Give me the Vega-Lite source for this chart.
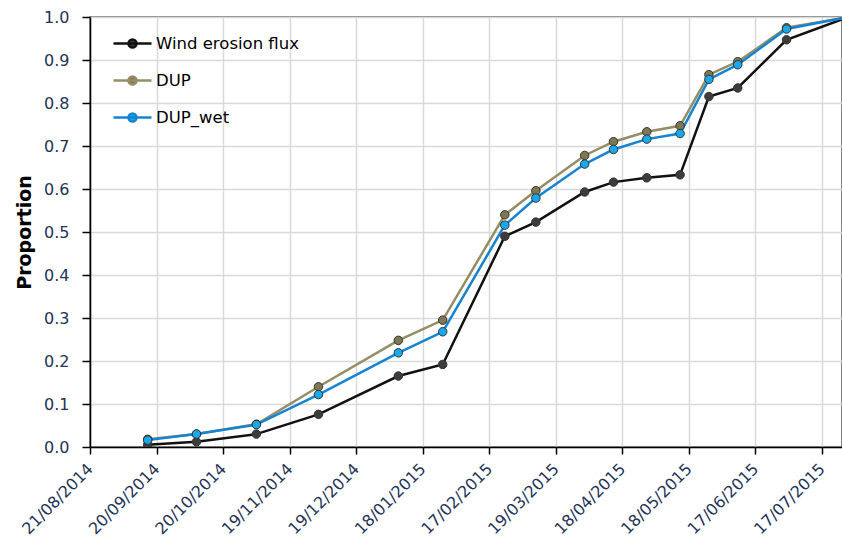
{
  "$schema": "https://vega.github.io/schema/vega-lite/v6.json",
  "width": 752,
  "height": 430,
  "autosize": {"type": "none"},
  "padding": {"left": 90, "top": 17, "right": 0, "bottom": 99},
  "background": "white",
  "config": {
    "view": {"stroke": "#595959", "strokeWidth": 1.5},
    "font": "DejaVu Sans"
  },
  "data": {
    "values": [
      {"date": "2014-09-16", "series": "Wind erosion flux", "value": 0.005},
      {"date": "2014-10-08", "series": "Wind erosion flux", "value": 0.012},
      {"date": "2014-11-04", "series": "Wind erosion flux", "value": 0.030},
      {"date": "2014-12-02", "series": "Wind erosion flux", "value": 0.076},
      {"date": "2015-01-07", "series": "Wind erosion flux", "value": 0.165},
      {"date": "2015-01-27", "series": "Wind erosion flux", "value": 0.192},
      {"date": "2015-02-24", "series": "Wind erosion flux", "value": 0.490},
      {"date": "2015-03-10", "series": "Wind erosion flux", "value": 0.523},
      {"date": "2015-04-01", "series": "Wind erosion flux", "value": 0.593},
      {"date": "2015-04-14", "series": "Wind erosion flux", "value": 0.616},
      {"date": "2015-04-29", "series": "Wind erosion flux", "value": 0.626},
      {"date": "2015-05-14", "series": "Wind erosion flux", "value": 0.633},
      {"date": "2015-05-27", "series": "Wind erosion flux", "value": 0.815},
      {"date": "2015-06-09", "series": "Wind erosion flux", "value": 0.835},
      {"date": "2015-07-01", "series": "Wind erosion flux", "value": 0.947},
      {"date": "2015-07-29", "series": "Wind erosion flux", "value": 1.0},
      {"date": "2014-09-16", "series": "DUP", "value": 0.018},
      {"date": "2014-10-08", "series": "DUP", "value": 0.030},
      {"date": "2014-11-04", "series": "DUP", "value": 0.053},
      {"date": "2014-12-02", "series": "DUP", "value": 0.140},
      {"date": "2015-01-07", "series": "DUP", "value": 0.248},
      {"date": "2015-01-27", "series": "DUP", "value": 0.295},
      {"date": "2015-02-24", "series": "DUP", "value": 0.540},
      {"date": "2015-03-10", "series": "DUP", "value": 0.596},
      {"date": "2015-04-01", "series": "DUP", "value": 0.678},
      {"date": "2015-04-14", "series": "DUP", "value": 0.710},
      {"date": "2015-04-29", "series": "DUP", "value": 0.733},
      {"date": "2015-05-14", "series": "DUP", "value": 0.747},
      {"date": "2015-05-27", "series": "DUP", "value": 0.866},
      {"date": "2015-06-09", "series": "DUP", "value": 0.896},
      {"date": "2015-07-01", "series": "DUP", "value": 0.975},
      {"date": "2015-07-29", "series": "DUP", "value": 1.0},
      {"date": "2014-09-16", "series": "DUP_wet", "value": 0.016},
      {"date": "2014-10-08", "series": "DUP_wet", "value": 0.030},
      {"date": "2014-11-04", "series": "DUP_wet", "value": 0.052},
      {"date": "2014-12-02", "series": "DUP_wet", "value": 0.122},
      {"date": "2015-01-07", "series": "DUP_wet", "value": 0.219},
      {"date": "2015-01-27", "series": "DUP_wet", "value": 0.268},
      {"date": "2015-02-24", "series": "DUP_wet", "value": 0.516},
      {"date": "2015-03-10", "series": "DUP_wet", "value": 0.579},
      {"date": "2015-04-01", "series": "DUP_wet", "value": 0.658},
      {"date": "2015-04-14", "series": "DUP_wet", "value": 0.692},
      {"date": "2015-04-29", "series": "DUP_wet", "value": 0.716},
      {"date": "2015-05-14", "series": "DUP_wet", "value": 0.729},
      {"date": "2015-05-27", "series": "DUP_wet", "value": 0.855},
      {"date": "2015-06-09", "series": "DUP_wet", "value": 0.889},
      {"date": "2015-07-01", "series": "DUP_wet", "value": 0.972},
      {"date": "2015-07-29", "series": "DUP_wet", "value": 1.0}
    ]
  },
  "encoding": {
    "x": {
      "field": "date",
      "type": "temporal",
      "scale": {
        "type": "utc",
        "domain": [
          {"year": 2014, "month": 8, "date": 21, "utc": true},
          {"year": 2015, "month": 7, "date": 26, "utc": true}
        ],
        "nice": false
      },
      "axis": {
        "title": null,
        "values": [
          {"year": 2014, "month": 8, "date": 21, "utc": true},
          {"year": 2014, "month": 9, "date": 20, "utc": true},
          {"year": 2014, "month": 10, "date": 20, "utc": true},
          {"year": 2014, "month": 11, "date": 19, "utc": true},
          {"year": 2014, "month": 12, "date": 19, "utc": true},
          {"year": 2015, "month": 1, "date": 18, "utc": true},
          {"year": 2015, "month": 2, "date": 17, "utc": true},
          {"year": 2015, "month": 3, "date": 19, "utc": true},
          {"year": 2015, "month": 4, "date": 18, "utc": true},
          {"year": 2015, "month": 5, "date": 18, "utc": true},
          {"year": 2015, "month": 6, "date": 17, "utc": true},
          {"year": 2015, "month": 7, "date": 17, "utc": true}
        ],
        "format": "%d/%m/%Y",
        "labelAngle": -45,
        "labelAlign": "right",
        "labelBaseline": "middle",
        "labelPadding": 12,
        "labelFontSize": 16,
        "labelColor": "#243356",
        "labelFont": "DejaVu Sans",
        "labelOverlap": false,
        "labelFlush": false,
        "tickSize": 7,
        "tickColor": "#000000",
        "tickWidth": 1.5,
        "domainColor": "#000000",
        "domainWidth": 1.5,
        "grid": true,
        "gridColor": "#d9d9d9",
        "gridWidth": 1.5
      }
    },
    "y": {
      "field": "value",
      "type": "quantitative",
      "scale": {"domain": [0, 1], "nice": false},
      "axis": {
        "title": "Proportion",
        "titleFontSize": 19,
        "titleFontWeight": "bold",
        "titleColor": "#000000",
        "titleFont": "DejaVu Sans",
        "titlePadding": 9,
        "values": [0, 0.1, 0.2, 0.3, 0.4, 0.5, 0.6, 0.7, 0.8, 0.9, 1.0],
        "format": ".1f",
        "labelFontSize": 16,
        "labelColor": "#243356",
        "labelFont": "DejaVu Sans",
        "labelPadding": 13,
        "tickSize": 8,
        "tickColor": "#000000",
        "tickWidth": 1.5,
        "domainColor": "#000000",
        "domainWidth": 1.5,
        "grid": true,
        "gridColor": "#d9d9d9",
        "gridWidth": 1.5
      }
    }
  },
  "layer": [
    {
      "mark": {"type": "line", "strokeWidth": 2.5, "clip": true},
      "encoding": {
        "color": {
          "field": "series",
          "type": "nominal",
          "sort": ["Wind erosion flux", "DUP", "DUP_wet"],
          "scale": {
            "domain": ["Wind erosion flux", "DUP", "DUP_wet"],
            "range": ["#111111", "#948d66", "#1484d2"]
          },
          "legend": {
            "title": null,
            "orient": "none",
            "legendX": 22,
            "legendY": 6,
            "padding": 0,
            "rowPadding": 7,
            "symbolType": "M-1,0L1,0M-0.21,0A0.21,0.21,0,1,0,0.21,0A0.21,0.21,0,1,0,-0.21,0Z",
            "symbolSize": 1444,
            "symbolStrokeWidth": 2.5,
            "labelFontSize": 16.5,
            "labelFont": "DejaVu Sans",
            "labelColor": "#000000",
            "labelOffset": 3,
            "labelLimit": 300
          }
        },
        "order": {"field": "series", "type": "nominal"}
      }
    },
    {
      "mark": {"type": "point", "filled": true, "size": 72, "stroke": "#333333", "strokeWidth": 1, "opacity": 1, "clip": true},
      "encoding": {
        "fill": {
          "field": "series",
          "type": "nominal",
          "scale": {
            "domain": ["Wind erosion flux", "DUP", "DUP_wet"],
            "range": ["#3c3c3c", "#7d7852", "#18a8ec"]
          },
          "legend": {
            "title": null,
            "orient": "none",
            "legendX": 22,
            "legendY": 6,
            "padding": 0,
            "rowPadding": 7,
            "symbolType": "M-1,0L1,0M-0.21,0A0.21,0.21,0,1,0,0.21,0A0.21,0.21,0,1,0,-0.21,0Z",
            "symbolSize": 1444,
            "symbolStrokeWidth": 2.5,
            "labelFontSize": 16.5,
            "labelFont": "DejaVu Sans",
            "labelColor": "#000000",
            "labelOffset": 3,
            "labelLimit": 300
          }
        }
      }
    }
  ]
}
